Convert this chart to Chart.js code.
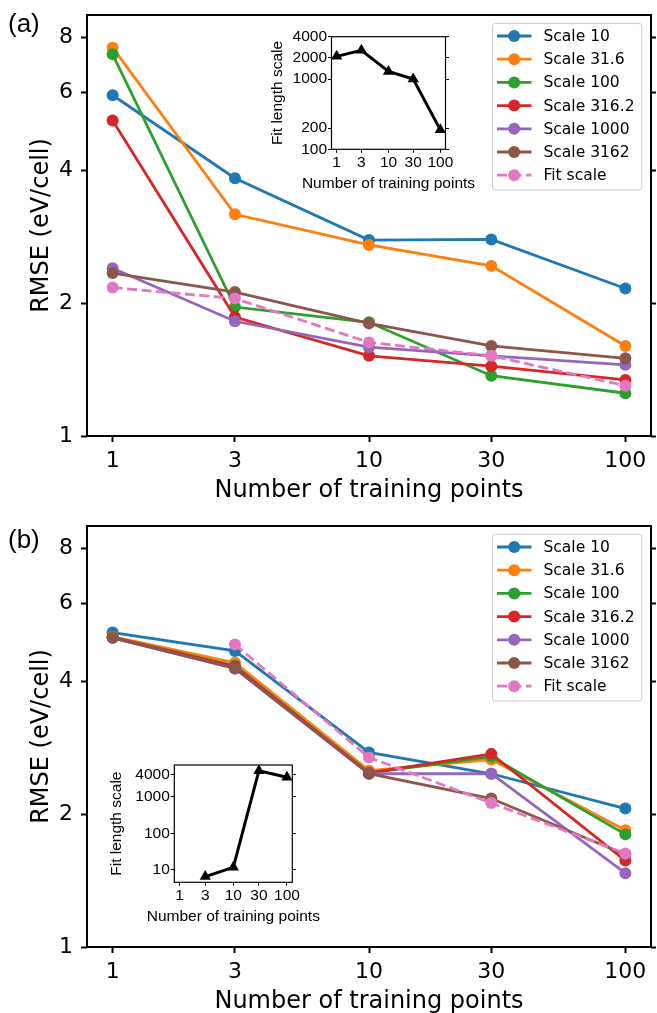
<!DOCTYPE html>
<html>
<head>
<meta charset="utf-8">
<script src="https://cdn.jsdelivr.net/npm/chart.js@4.4.1/dist/chart.umd.min.js"></script>
<style>
  html, body { margin: 0; padding: 0; background: #fff; overflow: hidden; }
  #page { position: relative; width: 657px; height: 1013px; overflow: hidden; }
  canvas { position: absolute; }
  .tag { position: absolute; left: 8px; font: 26px 'Liberation Sans', Arial, sans-serif; line-height: 26px; color: #000; }
</style>
</head>
<body>
<div id="page">
  <canvas id="mainA" width="657" height="511" style="left:0;top:0"></canvas>
  <canvas id="insetA" width="235" height="170" style="left:255px;top:25px"></canvas>
  <canvas id="mainB" width="657" height="511" style="left:0;top:511px"></canvas>
  <canvas id="insetB" width="232" height="180" style="left:98px;top:752px"></canvas>
  <div class="tag" style="top:9.5px">(a)</div>
  <div class="tag" style="top:526px">(b)</div>
</div>
<script>
'use strict';

// Shared axes / series info
const trainPoints = [1, 3, 10, 30, 100];
const trainTicks = [1, 3, 10, 30, 100];
const rmseTicks = [1, 2, 4, 6, 8];
const seriesNames = ['Scale 10', 'Scale 31.6', 'Scale 100', 'Scale 316.2', 'Scale 1000', 'Scale 3162', 'Fit scale'];
const seriesColors = ['#1f77b4', '#ff7f0e', '#2ca02c', '#d62728', '#9467bd', '#8c564b', '#e377c2'];

// Panel (a) RMSE (eV/cell)
const scale10A = [5.92, 3.84, 2.78, 2.79, 2.16];
const scale31A = [7.59, 3.18, 2.71, 2.43, 1.60];
const scale100A = [7.33, 1.96, 1.81, 1.37, 1.25];
const scale316A = [5.19, 1.86, 1.52, 1.44, 1.34];
const scale1000A = [2.40, 1.82, 1.59, 1.52, 1.45];
const scale3162A = [2.34, 2.12, 1.80, 1.60, 1.50];
const fitScaleA = [2.17, 2.05, 1.63, 1.52, 1.30];

// Panel (b) RMSE (eV/cell)
const scale10B = [5.16, 4.69, 2.76, 2.47, 2.06];
const scale31B = [5.05, 4.41, 2.51, 2.66, 1.84];
const scale100B = [5.03, 4.34, 2.48, 2.70, 1.80];
const scale316B = [5.03, 4.32, 2.48, 2.74, 1.57];
const scale1000B = [5.02, 4.28, 2.47, 2.47, 1.47];
const scale3162B = [5.02, 4.28, 2.47, 2.17, 1.62];
const fitScaleB = [null, 4.85, 2.69, 2.12, 1.63];

// Insets: fitted length scale
const lengthA = [2100, 2560, 1284, 1000, 189];
const lengthB = [null, 6.6, 11.8, 5100, 3380];
const lengthTicksA = [100, 200, 1000, 2000, 4000];
const lengthTicksB = [10, 100, 1000, 4000];

Chart.defaults.font.family = "'DejaVu Sans', sans-serif";
Chart.defaults.color = '#000';

const insetFont = "'Liberation Sans', Arial, sans-serif";

// force a scale to a fixed thickness so the plot box lands where we want it
function fixedSize(size) {
  return function (scale) {
    if (scale.isHorizontal()) scale.height = size;
    else scale.width = size;
    scale.paddingLeft = scale.paddingRight = scale.paddingTop = scale.paddingBottom = 0;
  };
}
function setTicks(values) {
  return function (scale) {
    scale.ticks = values.map(v => ({ value: v }));
  };
}

const frame = {
  id: 'frame',
  afterDatasetsDraw(chart, args, opts) {
    const { ctx, chartArea: a } = chart;
    ctx.save();
    ctx.strokeStyle = '#000';
    ctx.lineWidth = opts.width || 1;
    ctx.strokeRect(a.left, a.top, a.right - a.left, a.bottom - a.top);
    ctx.restore();
  }
};

// x title for the small insets (the built-in one gets squeezed to the axis width)
const insetTitle = {
  id: 'insetTitle',
  afterDraw(chart, args, opts) {
    const { ctx, chartArea: a } = chart;
    ctx.save();
    ctx.fillStyle = '#000';
    ctx.font = '15.5px ' + insetFont;
    ctx.textAlign = 'center';
    ctx.textBaseline = 'middle';
    ctx.fillText(opts.text, (a.left + a.right) / 2, a.bottom + opts.offset);
    ctx.restore();
  }
};

const legendBox = {
  id: 'legendBox',
  afterDraw(chart) {
    const { ctx, chartArea: a } = chart;
    const left = a.right - 158.5, top = a.top + 8.3, w = 149.3, h = 166.7;
    ctx.save();
    ctx.beginPath();
    ctx.roundRect(left, top, w, h, 3);
    ctx.fillStyle = 'rgba(255,255,255,0.8)';
    ctx.fill();
    ctx.strokeStyle = '#cccccc';
    ctx.lineWidth = 1;
    ctx.stroke();
    chart.data.datasets.forEach((ds, i) => {
      const y = a.top + 21 + i * 23.2;
      ctx.strokeStyle = ds.borderColor;
      ctx.lineWidth = 2.8;
      ctx.setLineDash(ds.borderDash || []);
      ctx.beginPath();
      ctx.moveTo(left + 4.5, y);
      ctx.lineTo(left + 39, y);
      ctx.stroke();
      ctx.setLineDash([]);
      ctx.fillStyle = ds.borderColor;
      ctx.beginPath();
      ctx.arc(left + 21.7, y, 6, 0, Math.PI * 2);
      ctx.fill();
      ctx.fillStyle = '#000';
      ctx.font = "15.5px 'DejaVu Sans'";
      ctx.textBaseline = 'middle';
      ctx.fillText(ds.label, left + 51, y + 1);
    });
    ctx.restore();
  }
};

function rmseChart(canvasId, rows) {
  new Chart(document.getElementById(canvasId), {
    type: 'line',
    data: {
      datasets: rows.map((row, i) => ({
        label: seriesNames[i],
        data: trainPoints.map((x, j) => ({ x: x, y: row[j] })),
        yAxisID: 'y',
        borderColor: seriesColors[i],
        backgroundColor: seriesColors[i],
        borderWidth: 2.8,
        borderDash: i === 6 ? [10, 4.5] : [],
        pointRadius: 6,
        pointBorderWidth: 0,
        pointBackgroundColor: seriesColors[i],
        order: rows.length - i
      }))
    },
    options: {
      responsive: false,
      animation: false,
      devicePixelRatio: 1,
      layout: { padding: { top: 15, left: 0, right: 0, bottom: 0 } },
      plugins: { legend: { display: false }, tooltip: { enabled: false }, frame: { width: 2 } },
      scales: {
        x: {
          type: 'logarithmic',
          position: 'bottom',
          min: Math.pow(10, -0.1),
          max: Math.pow(10, 2.1),
          afterBuildTicks: setTicks(trainTicks),
          afterFit: fixedSize(75),
          border: { display: false },
          grid: { drawOnChartArea: false, tickLength: 6, tickWidth: 2, tickColor: '#000' },
          ticks: { autoSkip: false, maxRotation: 0, minRotation: 0, padding: 6.5, font: { size: 22 }, callback: v => String(v) },
          title: { display: true, text: 'Number of training points', font: { size: 24 }, padding: { top: 0, bottom: 6 } }
        },
        y: {
          type: 'logarithmic',
          position: 'left',
          min: 1,
          max: 9,
          afterBuildTicks: setTicks(rmseTicks),
          afterFit: fixedSize(87),
          border: { display: false },
          grid: { drawOnChartArea: false, tickLength: 6, tickWidth: 2, tickColor: '#000' },
          ticks: { padding: 8, font: { size: 22 }, callback: v => String(v) },
          title: { display: true, text: 'RMSE (eV/cell)', font: { size: 24 }, padding: { top: 27, bottom: 0 } }
        },
        y2: {
          type: 'logarithmic',
          position: 'right',
          min: 1,
          max: 9,
          afterBuildTicks: setTicks(rmseTicks),
          afterFit: fixedSize(3.5),
          border: { display: false },
          grid: { drawOnChartArea: false, tickLength: 5, tickWidth: 2, tickColor: '#000' },
          ticks: { display: false }
        }
      }
    },
    plugins: [frame, legendBox]
  });
}

function lengthChart(canvasId, values, yMin, yMax, yTicks, box) {
  new Chart(document.getElementById(canvasId), {
    type: 'line',
    data: {
      datasets: [{
        label: 'Fit length scale',
        data: trainPoints.map((x, j) => ({ x: x, y: values[j] })),
        yAxisID: 'y',
        borderColor: '#000',
        backgroundColor: '#000',
        borderWidth: 3,
        pointStyle: 'triangle',
        pointRadius: 6.5,
        pointBorderWidth: 0,
        pointBackgroundColor: '#000'
      }]
    },
    options: {
      responsive: false,
      animation: false,
      devicePixelRatio: 1,
      layout: { padding: { top: box.top, left: 0, right: 0, bottom: 0 } },
      plugins: {
        legend: { display: false },
        tooltip: { enabled: false },
        frame: { width: 1.2 },
        insetTitle: { text: 'Number of training points', offset: 34 }
      },
      scales: {
        x: {
          type: 'logarithmic',
          position: 'bottom',
          min: Math.pow(10, -0.1),
          max: Math.pow(10, 2.1),
          afterBuildTicks: setTicks(trainTicks),
          afterFit: fixedSize(box.bottom),
          border: { display: false },
          grid: { drawOnChartArea: false, tickLength: 3.5, tickWidth: 1, tickColor: '#000' },
          ticks: { autoSkip: false, maxRotation: 0, minRotation: 0, padding: 1, font: { family: insetFont, size: 15.5 }, callback: v => String(v) }
        },
        y: {
          type: 'logarithmic',
          position: 'left',
          min: yMin,
          max: yMax,
          afterBuildTicks: setTicks(yTicks),
          afterFit: fixedSize(box.left),
          border: { display: false },
          grid: { drawOnChartArea: false, tickLength: 3.5, tickWidth: 1, tickColor: '#000' },
          ticks: { padding: 1, font: { family: insetFont, size: 15.5 }, callback: v => String(v) },
          title: { display: true, text: 'Fit length scale', font: { family: insetFont, size: 15.5 }, padding: { top: box.yTitle, bottom: 0 } }
        },
        y2: {
          type: 'logarithmic',
          position: 'right',
          min: yMin,
          max: yMax,
          afterBuildTicks: setTicks(yTicks),
          afterFit: fixedSize(box.right),
          border: { display: false },
          grid: { drawOnChartArea: false, tickLength: 3.5, tickWidth: 1, tickColor: '#000' },
          ticks: { display: false }
        }
      }
    },
    plugins: [frame, insetTitle]
  });
}

rmseChart('mainA', [scale10A, scale31A, scale100A, scale316A, scale1000A, scale3162A, fitScaleA]);
rmseChart('mainB', [scale10B, scale31B, scale100B, scale316B, scale1000B, scale3162B, fitScaleB]);

lengthChart('insetA', lengthA, 100, 4000, lengthTicksA,
  { left: 76.5, right: 44.5, top: 11.7, bottom: 45.7, yTitle: 13 });
lengthChart('insetB', lengthB, 4.6, 7300, lengthTicksB,
  { left: 76.3, right: 37.7, top: 13, bottom: 49.7, yTitle: 9 });
</script>
</body>
</html>
